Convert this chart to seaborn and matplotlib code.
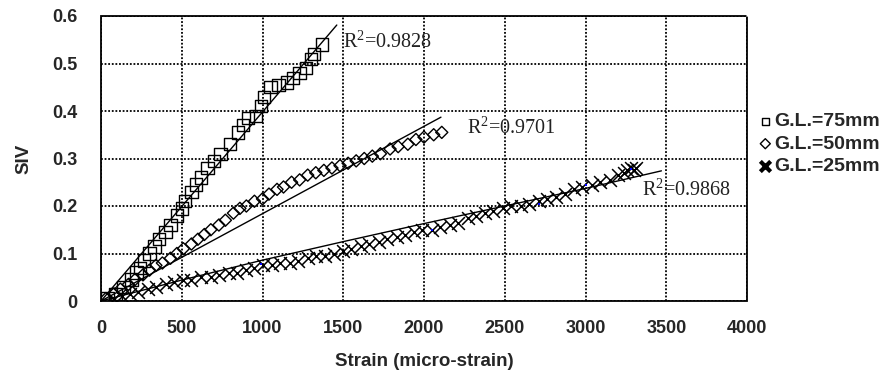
import numpy as np
import pandas as pd
import matplotlib
matplotlib.use("Agg")
import matplotlib.pyplot as plt
import seaborn as sns

# G.L.=75mm (squares)
strain_75 = [40, 90, 140, 190, 220, 240, 265, 300, 330, 360, 400, 430, 470, 500, 520, 560,
             590, 620, 660, 700, 740, 800, 850, 880, 910, 960, 990, 1010, 1050, 1100, 1150,
             1190, 1230, 1270, 1300, 1320, 1370]
siv_75 = [0.005, 0.015, 0.03, 0.045, 0.06, 0.07, 0.085, 0.1, 0.115, 0.13, 0.145, 0.16, 0.18,
          0.195, 0.21, 0.23, 0.245, 0.26, 0.28, 0.295, 0.31, 0.33, 0.355, 0.37, 0.385, 0.39,
          0.41, 0.43, 0.45, 0.455, 0.46, 0.47, 0.48, 0.49, 0.51, 0.52, 0.54]

# G.L.=50mm (diamonds)
strain_50 = [30, 80, 120, 170, 210, 260, 300, 340, 380, 430, 470, 510, 560, 600, 640, 680,
             730, 770, 820, 860, 900, 950, 1000, 1040, 1090, 1130, 1180, 1230, 1280, 1330,
             1380, 1430, 1480, 1530, 1580, 1630, 1680, 1730, 1790, 1840, 1900, 1950, 2000,
             2060, 2110]
siv_50 = [0.005, 0.015, 0.025, 0.035, 0.045, 0.055, 0.065, 0.075, 0.08, 0.09, 0.1, 0.11,
          0.12, 0.13, 0.14, 0.15, 0.16, 0.17, 0.185, 0.195, 0.2, 0.21, 0.215, 0.225, 0.235,
          0.24, 0.25, 0.255, 0.265, 0.27, 0.275, 0.28, 0.285, 0.29, 0.295, 0.3, 0.305, 0.31,
          0.32, 0.325, 0.33, 0.34, 0.345, 0.35, 0.355]

# G.L.=25mm (crosses)
strain_25 = [80, 130, 180, 230, 290, 340, 400, 450, 510, 560, 620, 680, 730, 790, 840, 900,
             950, 1000, 1060, 1110, 1170, 1220, 1280, 1330, 1390, 1440, 1500, 1550, 1610,
             1660, 1720, 1770, 1830, 1880, 1940, 1990, 2050, 2100, 2160, 2210, 2270, 2320,
             2380, 2430, 2490, 2540, 2600, 2650, 2710, 2760, 2820, 2870, 2930, 2980, 3040,
             3090, 3150, 3200, 3240, 3260, 3280, 3300, 3310]
siv_25 = [0.005, 0.01, 0.015, 0.02, 0.025, 0.03, 0.035, 0.04, 0.045, 0.045, 0.05, 0.05,
          0.055, 0.06, 0.06, 0.065, 0.07, 0.075, 0.075, 0.08, 0.08, 0.085, 0.09, 0.095, 0.095,
          0.1, 0.105, 0.11, 0.115, 0.12, 0.125, 0.13, 0.135, 0.14, 0.145, 0.15, 0.15, 0.155,
          0.16, 0.165, 0.175, 0.18, 0.185, 0.19, 0.195, 0.2, 0.2, 0.205, 0.21, 0.215, 0.22,
          0.225, 0.235, 0.24, 0.245, 0.25, 0.255, 0.265, 0.27, 0.275, 0.28, 0.275, 0.28]

# small blue points sitting in the 25mm cloud
strain_blue = [990, 2050, 2710, 3000, 3280]
siv_blue = [0.078, 0.15, 0.205, 0.245, 0.278]

# trend lines
trend_75_x = [0, 1460]
trend_75_y = [0, 0.581]
trend_50_x = [0, 2105]
trend_50_y = [0, 0.387]
trend_25_x = [0, 500, 1000, 1500, 2000, 2500, 3000, 3470]
trend_25_y = [0, 0.044, 0.086, 0.125, 0.163, 0.2, 0.237, 0.274]

r2_labels = [r"R$^{2}$=0.9828", r"R$^{2}$=0.9701", r"R$^{2}$=0.9868"]
r2_x = [1498, 2266, 3350]
r2_y = [0.545, 0.364, 0.234]

sns.set_style("white")
plt.rcParams['font.family'] = ['Liberation Sans', 'DejaVu Sans']
plt.rcParams['mathtext.fontset'] = 'custom'
plt.rcParams['mathtext.rm'] = 'Liberation Serif'
plt.rcParams['mathtext.default'] = 'rm'

fig = plt.figure(figsize=(8.88, 3.76), dpi=100)
ax = fig.add_axes([101/888, 75/376, 646/888, 285/376])

sns.lineplot(x=trend_75_x, y=trend_75_y, ax=ax, color='black', lw=1)
sns.lineplot(x=trend_50_x, y=trend_50_y, ax=ax, color='black', lw=1)
sns.lineplot(x=trend_25_x, y=trend_25_y, ax=ax, color='black', lw=1)

sns.scatterplot(x=strain_75, y=siv_75, ax=ax, marker='s', s=80, facecolors='none',
                edgecolor='black', linewidth=1, label='G.L.=75mm')
sns.scatterplot(x=strain_50, y=siv_50, ax=ax, marker='D', s=38, facecolors='none',
                edgecolor='black', linewidth=1, label='G.L.=50mm')
sns.scatterplot(x=strain_25, y=siv_25, ax=ax, marker='x', s=85, color='black',
                linewidth=1.1, label='G.L.=25mm')
sns.scatterplot(x=strain_blue, y=siv_blue, ax=ax, marker='s', s=4, color='blue',
                linewidth=0)

for lab, tx, ty in zip(r2_labels, r2_x, r2_y):
    ax.text(tx, ty, lab, fontsize=14.5, family='Liberation Serif', va='center', ha='left',
            color='#222222')

ax.set_xlim(0, 4000)
ax.set_ylim(0, 0.6)
ax.set_xticks(np.arange(0, 4001, 500))
ax.set_yticks(np.arange(0, 0.61, 0.1))
ax.set_yticklabels(['0', '0.1', '0.2', '0.3', '0.4', '0.5', '0.6'])
ax.grid(True, color='black', linestyle=(0, (1, 1)), linewidth=1.3)
for sp in ax.spines.values():
    sp.set_linestyle((0, (1, 1)))
    sp.set_linewidth(1.3)
    sp.set_color('black')
ax.tick_params(direction='out', length=4, width=1.2, color='black', labelsize=13)
ax.tick_params(axis='y', pad=13)
ax.tick_params(axis='x', pad=10)
for t in ax.get_xticklabels() + ax.get_yticklabels():
    t.set_fontweight('bold')
ax.set_xlabel('Strain (micro-strain)', fontsize=13.5, fontweight='bold', labelpad=11)
ax.set_ylabel('SIV', fontsize=13.5, fontweight='bold', labelpad=14)

handles, labels = ax.get_legend_handles_labels()
ax.legend_.remove()
leg = fig.legend(handles, labels, loc='center left', bbox_to_anchor=(741/888, 0.617),
                 frameon=False, handletextpad=0.1, labelspacing=0.25, handlelength=0.7,
                 prop={'weight': 'bold', 'size': 14})
for h in leg.legend_handles:
    h.set_sizes([26])
leg.legend_handles[2].set_sizes([55])
leg.legend_handles[2].set_linewidth(3)

fig.savefig('out.png', dpi=100)
